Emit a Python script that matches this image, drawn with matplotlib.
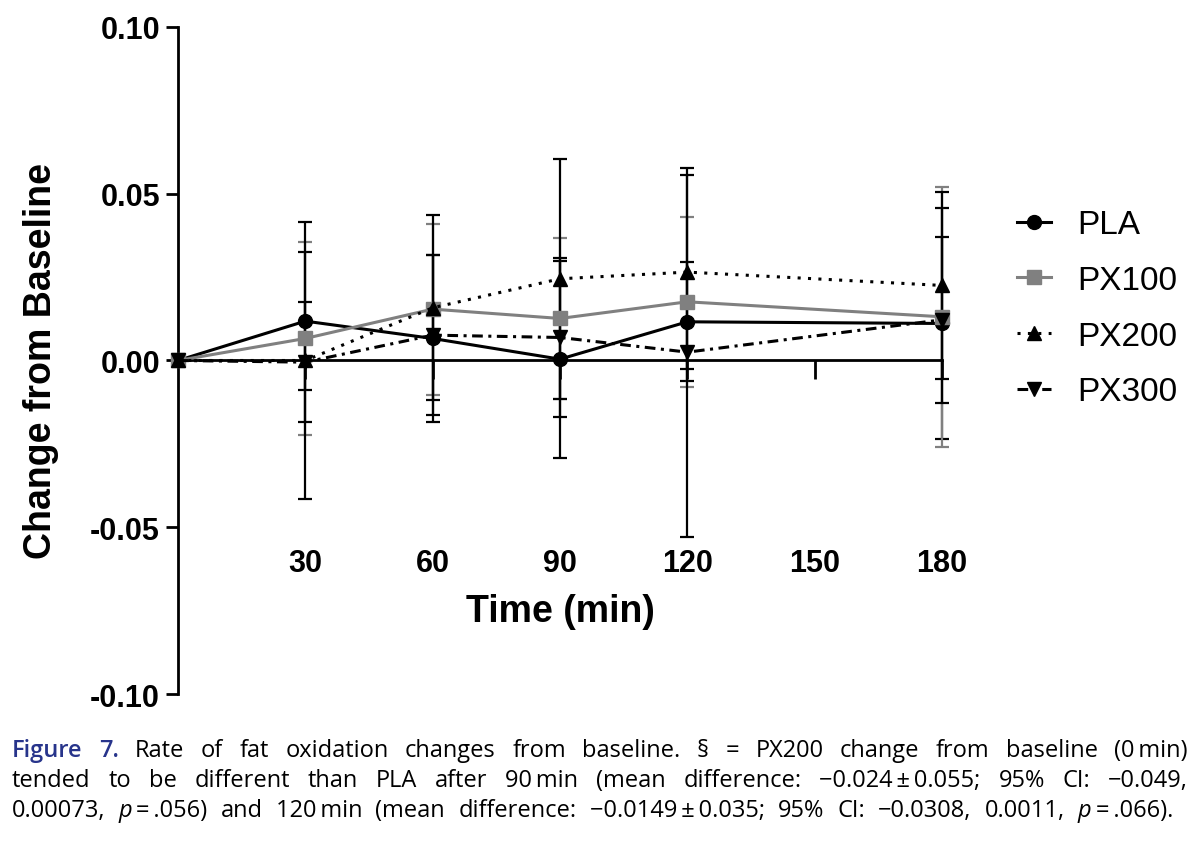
import re
import matplotlib
matplotlib.use("Agg")
import matplotlib.pyplot as plt

# values (change in fat oxidation from baseline)
time_min = [0, 30, 60, 90, 120, 180]
pla = [0, 0.0118, 0.0066, 0.0004, 0.0116, 0.0111]
pla_sd = [0, 0.0206, 0.0250, 0.0295, 0.0178, 0.0347]
px100 = [0, 0.0066, 0.0154, 0.0126, 0.0176, 0.0131]
px100_sd = [0, 0.0290, 0.0256, 0.0240, 0.0255, 0.0389]
px200 = [0, 0.0000, 0.0158, 0.0245, 0.0265, 0.0225]
px200_sd = [0, 0.0415, 0.0277, 0.0360, 0.0290, 0.0280]
px300 = [0, -0.0005, 0.0076, 0.0069, 0.0025, 0.0122]
px300_sd = [0, 0.0180, 0.0240, 0.0238, 0.0553, 0.0248]
group_names = ["PLA", "PX100", "PX200", "PX300"]
x_ticks = [30, 60, 90, 120, 150, 180]
y_ticks = [-0.10, -0.05, 0.00, 0.05, 0.10]
y_ticklabels = ["-0.10", "-0.05", "0.00", "0.05", "0.10"]

caption = [
    "[Figure] [7.] Rate of fat oxidation changes from baseline. § = PX200 change from baseline (0\u2009min)",
    "tended to be different than PLA after 90\u2009min (mean difference: \u22120.024\u2009±\u20090.055; 95% CI: \u22120.049,",
    "0.00073, {p}\u2009=\u2009.056) and 120\u2009min (mean difference: \u22120.0149\u2009±\u20090.035; 95% CI: \u22120.0308, 0.0011, {p}\u2009=\u2009.066).",
]

arial = ["Liberation Sans", "DejaVu Sans"]
cap_font = ["Open Sans", "DejaVu Sans"]

fig = plt.figure(figsize=(12, 8.45), dpi=100)
ax = fig.add_axes([0.1483, 0.1775, 0.6367, 0.7894])

series = [
    (pla, pla_sd, "black", "-", "o", 10),
    (px100, px100_sd, "#808080", "-", "s", 9.5),
    (px200, px200_sd, "black", (0, (1, 2.4)), "^", 10),
    (px300, px300_sd, "black", (0, (3.5, 1.8, 1, 1.8)), "v", 10),
]

handles = []
for i, (vals, sd, col, ls, mk, ms) in enumerate(series):
    ax.errorbar(time_min[1:], vals[1:], yerr=sd[1:], fmt="none", ecolor=col,
                elinewidth=1.6, capsize=5, capthick=1.6, zorder=2 + i * 0.1,
                clip_on=False)
    ln, = ax.plot(time_min, vals, color=col, ls=ls, lw=2.2, marker=mk, ms=ms,
                  mfc=col, mec=col, zorder=4 + i * 0.1, clip_on=False)
    handles.append(ln)

ax.set_xlim(0, 180)
ax.set_ylim(-0.1, 0.1)
for s in ["top", "right"]:
    ax.spines[s].set_visible(False)
ax.spines["bottom"].set_position(("data", 0))
ax.spines["left"].set_linewidth(2)
ax.spines["bottom"].set_linewidth(2)

ax.set_xticks(x_ticks)
ax.set_xticklabels([str(t) for t in x_ticks], fontsize=22, fontweight="bold", family=arial)
ax.set_yticks(y_ticks)
ax.set_yticklabels(y_ticklabels, fontsize=22, fontweight="bold", family=arial)
ax.tick_params(axis="x", direction="out", length=14, width=2, pad=121)
ax.tick_params(axis="y", direction="out", length=9, width=2, pad=4)

ax.set_xlabel("Time (min)", fontsize=27, fontweight="bold", family=arial, labelpad=11)
ax.set_ylabel("Change from Baseline", fontsize=27, fontweight="bold", family=arial, labelpad=22)

leg = ax.legend(handles, group_names, loc="center left", bbox_to_anchor=(0.834, 0.634),
                bbox_transform=fig.transFigure, frameon=False, borderpad=0,
                prop={"family": arial, "size": 24}, handlelength=1.0,
                handletextpad=0.8, labelspacing=0.74)

# justified caption below the chart
renderer = fig.canvas.get_renderer()
left_px, right_px = 12, 1188
line_y = [751, 781, 811]
base_size = 17


def parse(word):
    segs = []
    for part in re.split(r"(\[.*?\]|\{.*?\})", word):
        if not part:
            continue
        if part.startswith("["):
            segs.append((part[1:-1], "#27348b", "normal", "semibold"))
        elif part.startswith("{"):
            segs.append((part[1:-1], "black", "italic", "normal"))
        else:
            segs.append((part, "black", "normal", "normal"))
    return segs


def measure(segs, size):
    widths = []
    for txt, col, style, weight in segs:
        t = fig.text(0, 0, txt, fontsize=size, family=cap_font, style=style, fontweight=weight)
        widths.append(t.get_window_extent(renderer).width)
        t.remove()
    return widths


lines = [[parse(w) for w in line.split(" ")] for line in caption]
avail = right_px - left_px
scale = 1.0
for words in lines:
    tot = sum(sum(measure(w, base_size)) for w in words)
    need = tot + (len(words) - 1) * base_size * 0.2
    scale = min(scale, avail / need)
size = base_size * scale

for li, words in enumerate(lines):
    wws = [measure(w, size) for w in words]
    tot = sum(sum(ww) for ww in wws)
    target = avail if li < len(lines) - 1 else avail - 15
    gap = (target - tot) / (len(words) - 1)
    x = left_px
    y = 1 - line_y[li] / 845
    for w, ww in zip(words, wws):
        for (txt, col, style, weight), sw in zip(w, ww):
            fig.text(x / 1200, y, txt, fontsize=size, family=cap_font, style=style,
                     fontweight=weight, color=col, va="center", ha="left")
            x += sw
        x += gap

fig.savefig("out.png", dpi=100)
